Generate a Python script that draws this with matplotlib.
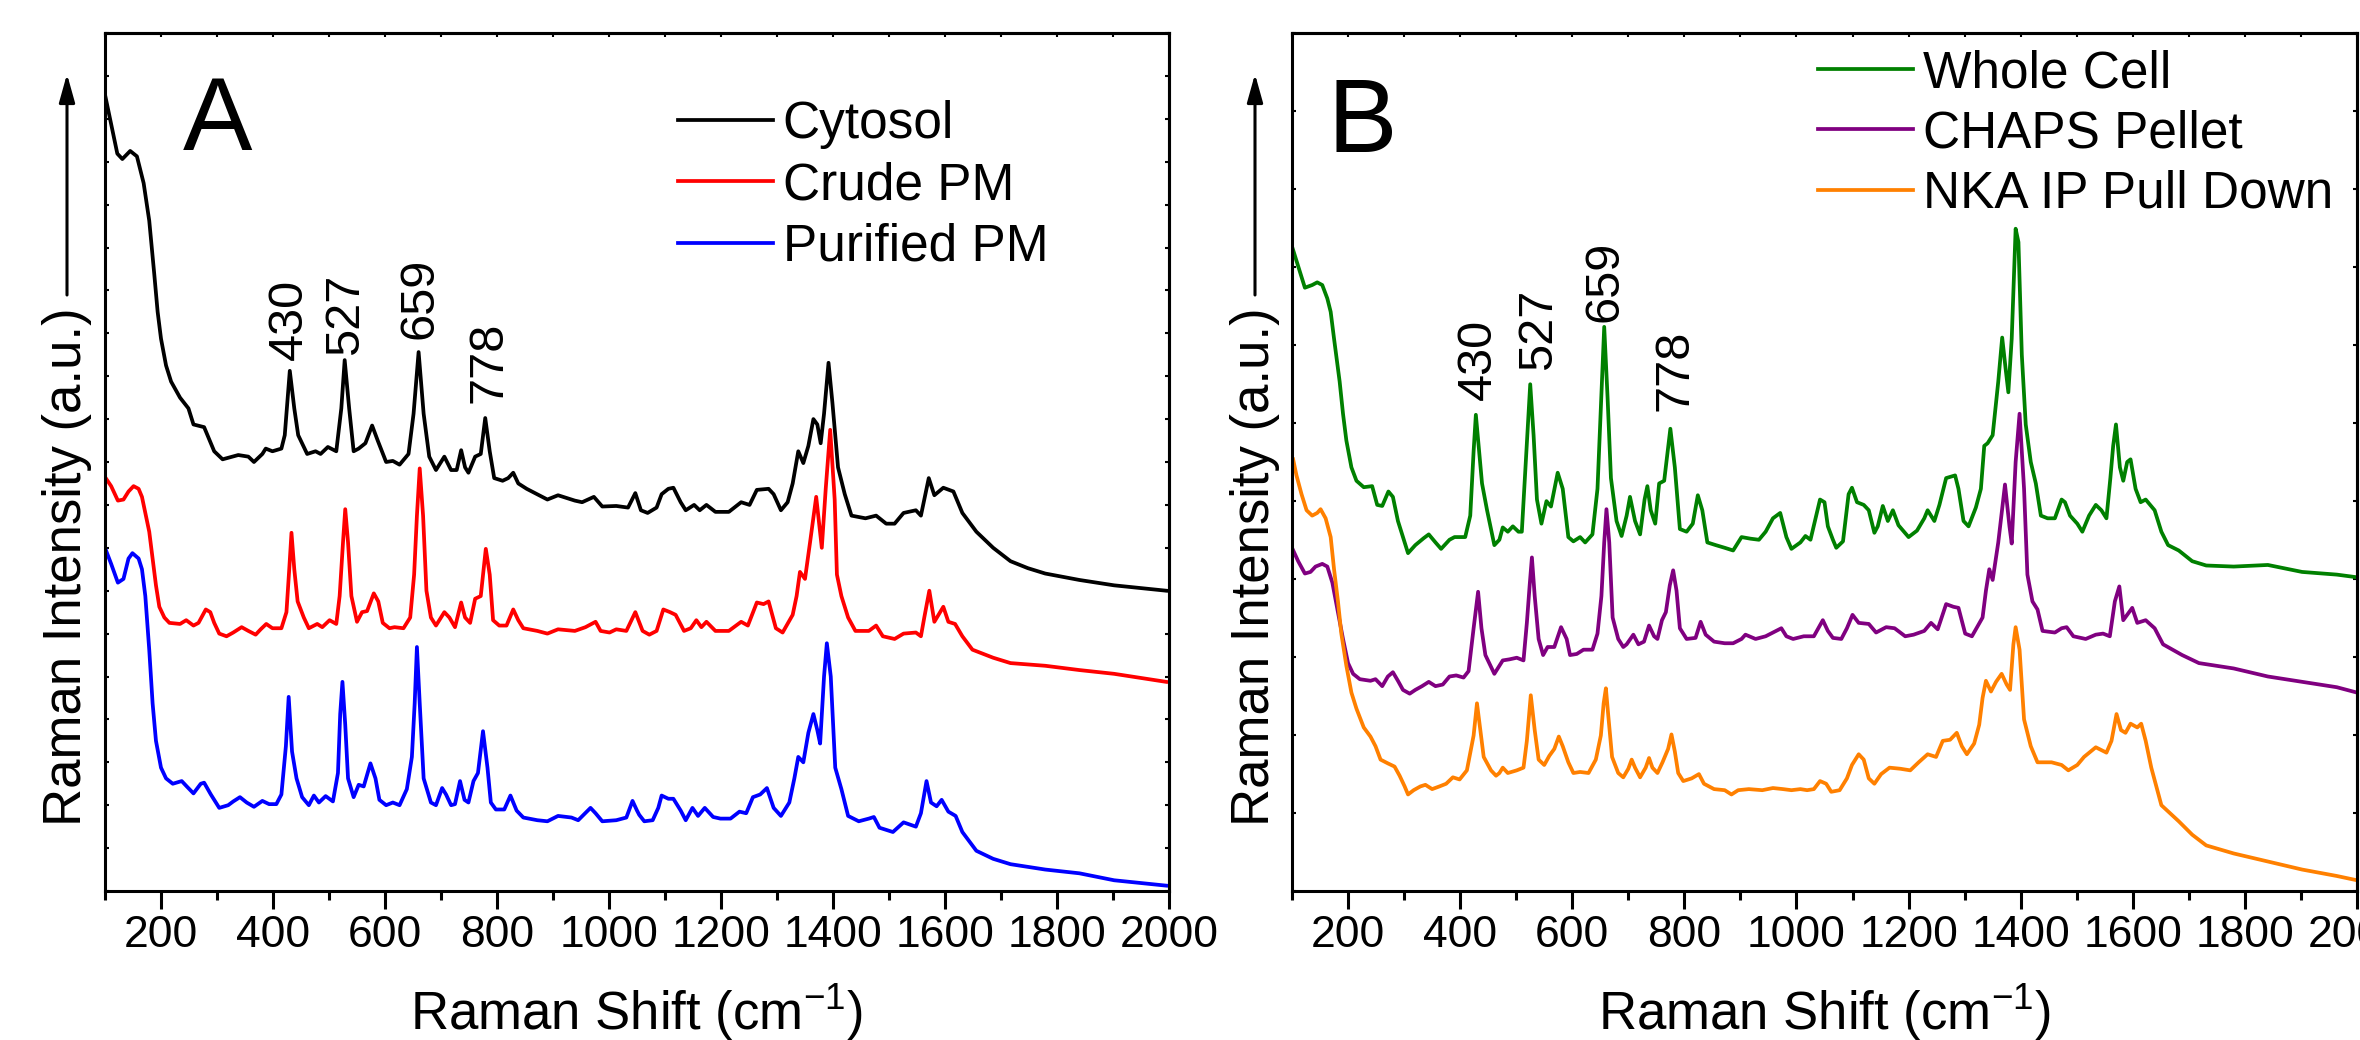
import matplotlib
matplotlib.use('Agg')
import matplotlib.pyplot as plt
import numpy as np

plt.rcParams['font.family'] = ['Liberation Sans', 'DejaVu Sans']
plt.rcParams['mathtext.fontset'] = 'custom'
plt.rcParams['mathtext.rm'] = 'Liberation Sans'
plt.rcParams['mathtext.it'] = 'Liberation Sans:italic'
plt.rcParams['mathtext.bf'] = 'Liberation Sans:bold'

# ---------------- Panel A data (Raman shift cm-1, intensity a.u.) ----------------
cyto_x = [100, 122, 131, 145, 157, 169, 179, 188, 194, 200, 209, 218, 234, 249, 258, 277, 295, 310, 338, 356,
          366, 381, 387, 399, 415, 421, 430, 438, 445, 461, 476, 485, 498, 513, 522, 528, 536, 544, 553, 565,
          577, 587, 602, 614, 626, 642, 651, 660, 669, 679, 691, 706, 718, 728, 736, 743, 749, 761, 771, 779,
          787, 795, 810, 820, 829, 838, 853, 890, 909, 939, 952, 973, 988, 1013, 1034, 1047, 1057, 1069, 1085, 1094,
          1106, 1115, 1128, 1137, 1152, 1162, 1174, 1190, 1214, 1236, 1251, 1264, 1285, 1294, 1307, 1319, 1328, 1338, 1347, 1356,
          1365, 1372, 1378, 1384, 1392, 1399, 1409, 1421, 1433, 1458, 1477, 1495, 1510, 1526, 1548, 1557, 1566, 1571, 1581, 1597,
          1615, 1631, 1656, 1686, 1717, 1748, 1779, 1840, 1902, 1995]
cyto_y = [1485, 1375, 1365, 1380, 1370, 1320, 1250, 1150, 1080, 1030, 980, 950, 920, 900, 870, 865, 820, 805, 813, 810,
          800, 815, 825, 820, 825, 850, 970, 900, 850, 815, 820, 815, 828, 820, 900, 990, 900, 820, 825, 835,
          868, 840, 800, 802, 795, 815, 890, 1005, 890, 810, 785, 810, 785, 785, 822, 790, 780, 810, 815, 882,
          820, 770, 765, 770, 780, 760, 750, 730, 738, 728, 725, 735, 717, 718, 715, 742, 710, 705, 715, 740,
          750, 752, 725, 710, 720, 710, 720, 707, 707, 725, 720, 748, 750, 740, 710, 725, 760, 820, 798, 830,
          880, 870, 835, 890, 985, 910, 790, 740, 700, 695, 700, 685, 685, 705, 710, 700, 745, 770, 738, 752,
          745, 705, 670, 640, 615, 602, 592, 580, 570, 560]

crude_x = [100, 111, 123, 133, 142, 151, 160, 166, 172, 179, 185, 191, 197, 206, 215, 234, 245, 258, 267, 280,
           288, 295, 304, 317, 329, 344, 356, 369, 378, 388, 399, 415, 424, 429, 433, 438, 444, 455, 464, 479,
           488, 501, 513, 519, 525, 529, 534, 540, 550, 559, 568, 580, 588, 596, 608, 617, 633, 645, 652, 657,
           662, 668, 674, 682, 691, 706, 715, 725, 736, 743, 752, 761, 771, 780, 787, 793, 804, 817, 829, 838,
           847, 872, 890, 909, 939, 958, 976, 985, 1001, 1013, 1031, 1047, 1060, 1072, 1085, 1097, 1109, 1119, 1134, 1146,
           1156, 1165, 1174, 1190, 1214, 1236, 1248, 1264, 1276, 1285, 1298, 1310, 1328, 1335, 1341, 1350, 1359, 1370, 1380, 1387,
           1395, 1403, 1407, 1415, 1427, 1440, 1464, 1477, 1489, 1510, 1526, 1548, 1557, 1563, 1572, 1581, 1597, 1606, 1618, 1631,
           1649, 1686, 1717, 1779, 1840, 1902, 1995]
crude_y = [772, 755, 728, 730, 745, 755, 750, 735, 705, 670, 620, 570, 530, 510, 500, 498, 505, 495, 500, 525,
           520, 500, 480, 475, 482, 492, 485, 478, 488, 498, 490, 490, 520, 600, 668, 600, 540, 510, 490, 498,
           492, 505, 498, 550, 650, 712, 650, 550, 502, 520, 522, 555, 540, 500, 490, 492, 490, 510, 590, 700,
           788, 700, 560, 510, 495, 520, 510, 492, 538, 510, 500, 545, 550, 638, 590, 505, 495, 495, 525, 505,
           490, 485, 480, 488, 485, 492, 502, 485, 482, 488, 485, 520, 485, 478, 485, 525, 520, 515, 485, 490,
           505, 492, 502, 485, 485, 502, 495, 538, 535, 540, 490, 482, 515, 550, 595, 582, 650, 735, 640, 750,
           860, 730, 590, 550, 510, 485, 485, 495, 475, 470, 480, 482, 475, 510, 560, 502, 530, 502, 498, 475,
           450, 435, 425, 420, 412, 405, 390]

pur_x = [100, 111, 123, 133, 142, 149, 160, 166, 172, 179, 185, 191, 200, 209, 221, 237, 246, 258, 271, 277,
         289, 304, 320, 329, 341, 353, 366, 381, 393, 406, 415, 423, 428, 434, 442, 452, 464, 473, 482, 494,
         507, 516, 520, 524, 529, 534, 544, 553, 562, 574, 583, 590, 602, 614, 626, 639, 648, 653, 657, 662,
         669, 682, 691, 702, 709, 718, 725, 734, 742, 749, 758, 766, 775, 783, 789, 798, 813, 824, 835, 847,
         872, 890, 909, 933, 945, 967, 976, 988, 1013, 1031, 1042, 1050, 1054, 1063, 1078, 1088, 1094, 1106, 1115, 1128,
         1137, 1149, 1159, 1171, 1186, 1199, 1217, 1233, 1245, 1257, 1270, 1282, 1294, 1307, 1322, 1331, 1338, 1347, 1356, 1365,
         1372, 1377, 1384, 1389, 1396, 1404, 1415, 1427, 1446, 1464, 1473, 1483, 1507, 1526, 1548, 1557, 1567, 1575, 1585, 1594,
         1606, 1619, 1631, 1656, 1686, 1717, 1779, 1840, 1902, 1995]
pur_y = [640, 610, 575, 582, 620, 630, 620, 600, 550, 450, 350, 280, 230, 210, 200, 205, 195, 182, 200, 202,
         180, 155, 160, 167, 175, 165, 157, 168, 162, 162, 180, 270, 362, 260, 210, 175, 160, 178, 165, 177,
         167, 220, 330, 390, 310, 210, 175, 198, 195, 238, 210, 170, 160, 165, 160, 190, 250, 350, 455, 350,
         210, 165, 160, 192, 180, 160, 162, 205, 170, 165, 205, 220, 298, 230, 165, 152, 152, 178, 150, 137,
         132, 130, 140, 137, 132, 155, 145, 130, 132, 137, 168, 150, 142, 130, 132, 155, 178, 172, 172, 150,
         132, 155, 140, 155, 138, 135, 135, 148, 145, 175, 180, 192, 155, 140, 165, 210, 250, 240, 295, 330,
         300, 275, 400, 462, 400, 230, 190, 140, 130, 135, 138, 118, 110, 128, 120, 145, 205, 165, 158, 170,
         148, 140, 110, 75, 60, 50, 40, 33, 20, 10]

# ---------------- Panel B data ----------------
whole_x = [100, 108, 117, 123, 136, 145, 154, 163, 169, 175, 185, 191, 197, 206, 215, 228, 243, 252, 261, 272,
           280, 289, 298, 307, 320, 335, 344, 356, 366, 381, 390, 409, 418, 424, 428, 433, 439, 448, 461, 470,
           476, 485, 494, 504, 510, 517, 525, 531, 537, 545, 554, 562, 574, 583, 593, 602, 614, 623, 636, 645,
           651, 657, 663, 669, 679, 688, 697, 703, 712, 721, 729, 734, 740, 748, 755, 764, 775, 783, 792, 804,
           815, 824, 832, 841, 856, 872, 887, 902, 918, 933, 945, 958, 971, 982, 991, 1007, 1016, 1025, 1034, 1042,
           1050, 1056, 1065, 1071, 1083, 1093, 1099, 1108, 1120, 1129, 1139, 1145, 1154, 1163, 1172, 1182, 1200, 1215, 1228, 1234,
           1246, 1255, 1267, 1283, 1289, 1298, 1307, 1320, 1329, 1335, 1341, 1350, 1360, 1367, 1373, 1378, 1384, 1391, 1396, 1402,
           1409, 1418, 1427, 1436, 1448, 1461, 1473, 1479, 1488, 1501, 1510, 1522, 1534, 1544, 1553, 1560, 1565, 1570, 1577, 1583,
           1590, 1596, 1605, 1614, 1623, 1639, 1651, 1663, 1682, 1706, 1731, 1780, 1841, 1902, 1964, 2000]
whole_y = [1202, 1175, 1145, 1125, 1130, 1135, 1130, 1105, 1080, 1030, 950, 890, 840, 790, 765, 753, 755, 720, 718, 745,
           735, 690, 660, 630, 645, 658, 665, 650, 638, 655, 660, 660, 700, 820, 888, 830, 760, 710, 645, 655,
           678, 670, 680, 670, 670, 800, 945, 850, 730, 685, 727, 717, 780, 750, 660, 652, 660, 650, 665, 750,
           900, 1052, 920, 770, 690, 662, 700, 735, 690, 665, 730, 755, 710, 685, 760, 765, 862, 790, 675, 670,
           685, 738, 710, 650, 645, 640, 635, 660, 657, 655, 670, 695, 705, 660, 638, 650, 662, 655, 695, 730,
           725, 680, 655, 640, 652, 740, 752, 725, 720, 710, 668, 680, 718, 690, 710, 682, 660, 672, 695, 710,
           690, 720, 770, 775, 750, 690, 680, 715, 750, 830, 835, 850, 950, 1032, 975, 930, 1030, 1235, 1210, 1000,
           870, 800, 760, 700, 695, 695, 730, 725, 700, 685, 670, 700, 720, 710, 695, 770, 830, 870, 790, 765,
           800, 805, 750, 725, 730, 710, 670, 645, 635, 615, 607, 605, 608, 595, 590, 585]

chaps_x = [100, 111, 123, 133, 142, 154, 163, 172, 182, 191, 200, 209, 221, 240, 249, 261, 271, 280, 289, 298,
           310, 320, 332, 344, 356, 369, 381, 393, 406, 415, 424, 432, 438, 445, 461, 470, 476, 488, 501, 513,
           519, 524, 528, 533, 540, 548, 556, 568, 580, 590, 596, 608, 620, 636, 645, 652, 657, 661, 666, 672,
           682, 691, 697, 709, 718, 728, 737, 746, 752, 760, 767, 774, 780, 786, 792, 804, 820, 829, 838, 853,
           872, 887, 902, 909, 927, 945, 958, 973, 982, 994, 1013, 1031, 1047, 1056, 1065, 1080, 1090, 1100, 1111, 1129,
           1142, 1160, 1175, 1194, 1209, 1228, 1240, 1252, 1267, 1280, 1289, 1301, 1313, 1332, 1338, 1344, 1350, 1360, 1372, 1380,
           1384, 1391, 1398, 1406, 1412, 1421, 1430, 1439, 1461, 1473, 1482, 1494, 1516, 1534, 1547, 1559, 1568, 1576, 1583, 1599,
           1608, 1623, 1639, 1654, 1688, 1718, 1780, 1841, 1902, 1964, 2000]
chaps_y = [640, 615, 592, 595, 605, 610, 605, 575, 520, 470, 425, 405, 395, 392, 395, 382, 400, 408, 392, 375,
           368, 375, 382, 390, 382, 385, 400, 402, 398, 410, 490, 558, 490, 440, 405, 420, 430, 432, 435, 430,
           500, 570, 622, 550, 470, 440, 455, 455, 492, 470, 440, 442, 450, 450, 480, 550, 650, 712, 650, 510,
           470, 455, 460, 478, 460, 465, 495, 475, 470, 505, 520, 570, 598, 560, 490, 470, 472, 502, 478, 465,
           462, 462, 470, 478, 470, 475, 482, 490, 475, 470, 475, 475, 505, 485, 472, 470, 490, 515, 500, 498,
           482, 492, 490, 475, 478, 485, 500, 488, 535, 530, 528, 480, 475, 510, 560, 600, 580, 650, 758, 680,
           648, 800, 890, 750, 590, 540, 525, 485, 482, 490, 492, 475, 470, 478, 480, 475, 540, 568, 505, 528,
           500, 505, 490, 460, 440, 425, 415, 400, 390, 380, 370]

nka_x = [102, 108, 117, 126, 136, 145, 151, 160, 169, 175, 182, 188, 197, 206, 215, 228, 240, 249, 258, 271,
         283, 292, 301, 307, 317, 329, 338, 350, 363, 375, 387, 399, 412, 424, 430, 436, 442, 455, 464, 470,
         476, 485, 501, 513, 519, 526, 533, 540, 550, 559, 568, 576, 583, 593, 602, 614, 629, 642, 651, 656,
         660, 664, 671, 682, 691, 700, 706, 712, 721, 731, 737, 743, 752, 761, 771, 777, 783, 789, 798, 813,
         826, 835, 853, 872, 884, 896, 915, 939, 958, 976, 991, 1007, 1019, 1031, 1042, 1053, 1062, 1077, 1090, 1099,
         1111, 1120, 1129, 1139, 1151, 1166, 1185, 1203, 1218, 1234, 1249, 1261, 1274, 1286, 1295, 1304, 1317, 1326, 1332, 1338,
         1347, 1356, 1366, 1375, 1381, 1387, 1391, 1398, 1406, 1418, 1430, 1455, 1473, 1485, 1501, 1513, 1534, 1553, 1562, 1571,
         1579, 1587, 1596, 1608, 1615, 1623, 1633, 1651, 1682, 1706, 1731, 1780, 1841, 1902, 1964, 2000]
nka_y = [805, 775, 740, 710, 700, 705, 712, 695, 660, 600, 540, 480, 420, 370, 340, 305, 288, 270, 245, 238,
         232, 215, 195, 180, 188, 195, 198, 190, 195, 200, 212, 208, 225, 290, 350, 300, 250, 225, 215, 220,
         230, 220, 225, 230, 280, 365, 300, 245, 235, 252, 265, 288, 270, 240, 220, 222, 220, 245, 290, 350,
         378, 330, 250, 220, 212, 228, 245, 230, 212, 230, 248, 230, 220, 240, 265, 292, 260, 220, 205, 210,
         218, 200, 190, 188, 180, 188, 190, 188, 192, 190, 188, 190, 188, 190, 205, 200, 185, 188, 210, 235,
         255, 245, 210, 200, 218, 230, 228, 225, 240, 255, 250, 280, 282, 295, 270, 255, 275, 310, 360, 392,
         372, 390, 405, 385, 375, 460, 492, 450, 320, 270, 240, 240, 235, 225, 235, 250, 268, 258, 280, 330,
         300, 295, 312, 305, 312, 280, 230, 160, 130, 105, 85, 70, 55, 40, 28, 20]

peak_text = ['430', '527', '659', '778']

# ---------------- Figure ----------------
W, H = 2360, 1040
fig = plt.figure(figsize=(W / 100, H / 100), dpi=100)
axA = fig.add_axes([105 / W, 149 / H, 1064 / W, 858 / H])
axB = fig.add_axes([1292 / W, 149 / H, 1065 / W, 858 / H])

LW = 2.7
SPW = 2.2


def style(ax, yticks):
    ax.set_xlim(100, 2000)
    ax.set_ylim(0, 1600)
    for s in ax.spines.values():
        s.set_linewidth(SPW)
    ax.set_xticks(np.arange(200, 2001, 200))
    ax.set_xticks(np.arange(100, 2001, 100), minor=True)
    ax.set_yticks(yticks)
    ax.set_yticks([], minor=True)
    ax.tick_params(axis='x', which='major', direction='out', length=13, width=SPW,
                   labelsize=32, pad=4)
    ax.tick_params(axis='x', which='minor', direction='out', length=6.5, width=SPW)
    ax.tick_params(axis='y', which='major', direction='in', length=3, width=1.5,
                   labelleft=False)
    top = ax.secondary_xaxis('top')
    top.set_xticks(np.arange(100, 2001, 100))
    top.tick_params(direction='in', length=3, width=1.5, labeltop=False)
    top.spines['top'].set_linewidth(SPW)
    right = ax.secondary_yaxis('right')
    right.set_yticks(yticks)
    right.tick_params(direction='in', length=3, width=1.5, labelright=False)
    right.spines['right'].set_linewidth(SPW)
    ax.set_xlabel(r'Raman Shift (cm$^{\mathrm{-1}}$)', fontsize=38, va='baseline')
    ax.xaxis.set_label_coords(0.5, (891 - 1030) / 858)
    ax.set_ylabel('Raman Intensity (a.u.)', fontsize=38, va='center', rotation_mode='default')


# Panel A
axA.plot(cyto_x, cyto_y, color='black', lw=LW, label='Cytosol')
axA.plot(crude_x, crude_y, color='#FF0000', lw=LW, label='Crude PM')
axA.plot(pur_x, pur_y, color='#0000FF', lw=LW, label='Purified PM')
style(axA, np.arange(0, 1601, 80))
axA.yaxis.set_label_coords((67 - 105) / 1064, (891 - 567) / 858)
axA.text((183 - 105) / 1064, (891 - 150) / 858, 'A', transform=axA.transAxes,
         fontsize=75, ha='left', va='baseline')
for t, px, py in zip(peak_text, [429, 529, 662, 785], [990, 1000, 1030, 910]):
    axA.text(px, py, t, rotation=90, ha='center', va='bottom', fontsize=35)
axA.legend(loc='upper left', bbox_to_anchor=((678 - 105) / 1064, (891 - 100) / 858),
           frameon=False, borderpad=0, borderaxespad=0, handlelength=1.84,
           handletextpad=0.2, labelspacing=0.24, fontsize=37)

# Panel B
axB.plot(whole_x, whole_y, color='#008000', lw=LW, label='Whole Cell')
axB.plot(chaps_x, chaps_y, color='#800080', lw=LW, label='CHAPS Pellet')
axB.plot(nka_x, nka_y, color='#FF8000', lw=LW, label='NKA IP Pull Down')
style(axB, np.linspace(0, 1600, 12))
axB.yaxis.set_label_coords((1255 - 1292) / 1065, (891 - 567) / 858)
axB.text((1328 - 1292) / 1065, (891 - 152) / 858, 'B', transform=axB.transAxes,
         fontsize=75, ha='left', va='baseline')
for t, px, py in zip(peak_text, [432, 539, 658, 784], [915, 972, 1062, 895]):
    axB.text(px, py, t, rotation=90, ha='center', va='bottom', fontsize=35)
axB.legend(loc='upper left', bbox_to_anchor=((1818 - 1292) / 1065, (891 - 49) / 858),
           frameon=False, borderpad=0, borderaxespad=0, handlelength=1.84,
           handletextpad=0.2, labelspacing=0.22, fontsize=37)

# Intensity arrows
for xa in (67, 1255):
    axA.annotate('', xy=(xa, H - 74), xytext=(xa, H - 295), xycoords='figure pixels',
                 textcoords='figure pixels', annotation_clip=False,
                 arrowprops=dict(arrowstyle='-|>,head_length=0.86,head_width=0.24',
                                 mutation_scale=20, lw=2.2, color='black',
                                 shrinkA=0, shrinkB=0))

fig.savefig('out.png', dpi=100)
